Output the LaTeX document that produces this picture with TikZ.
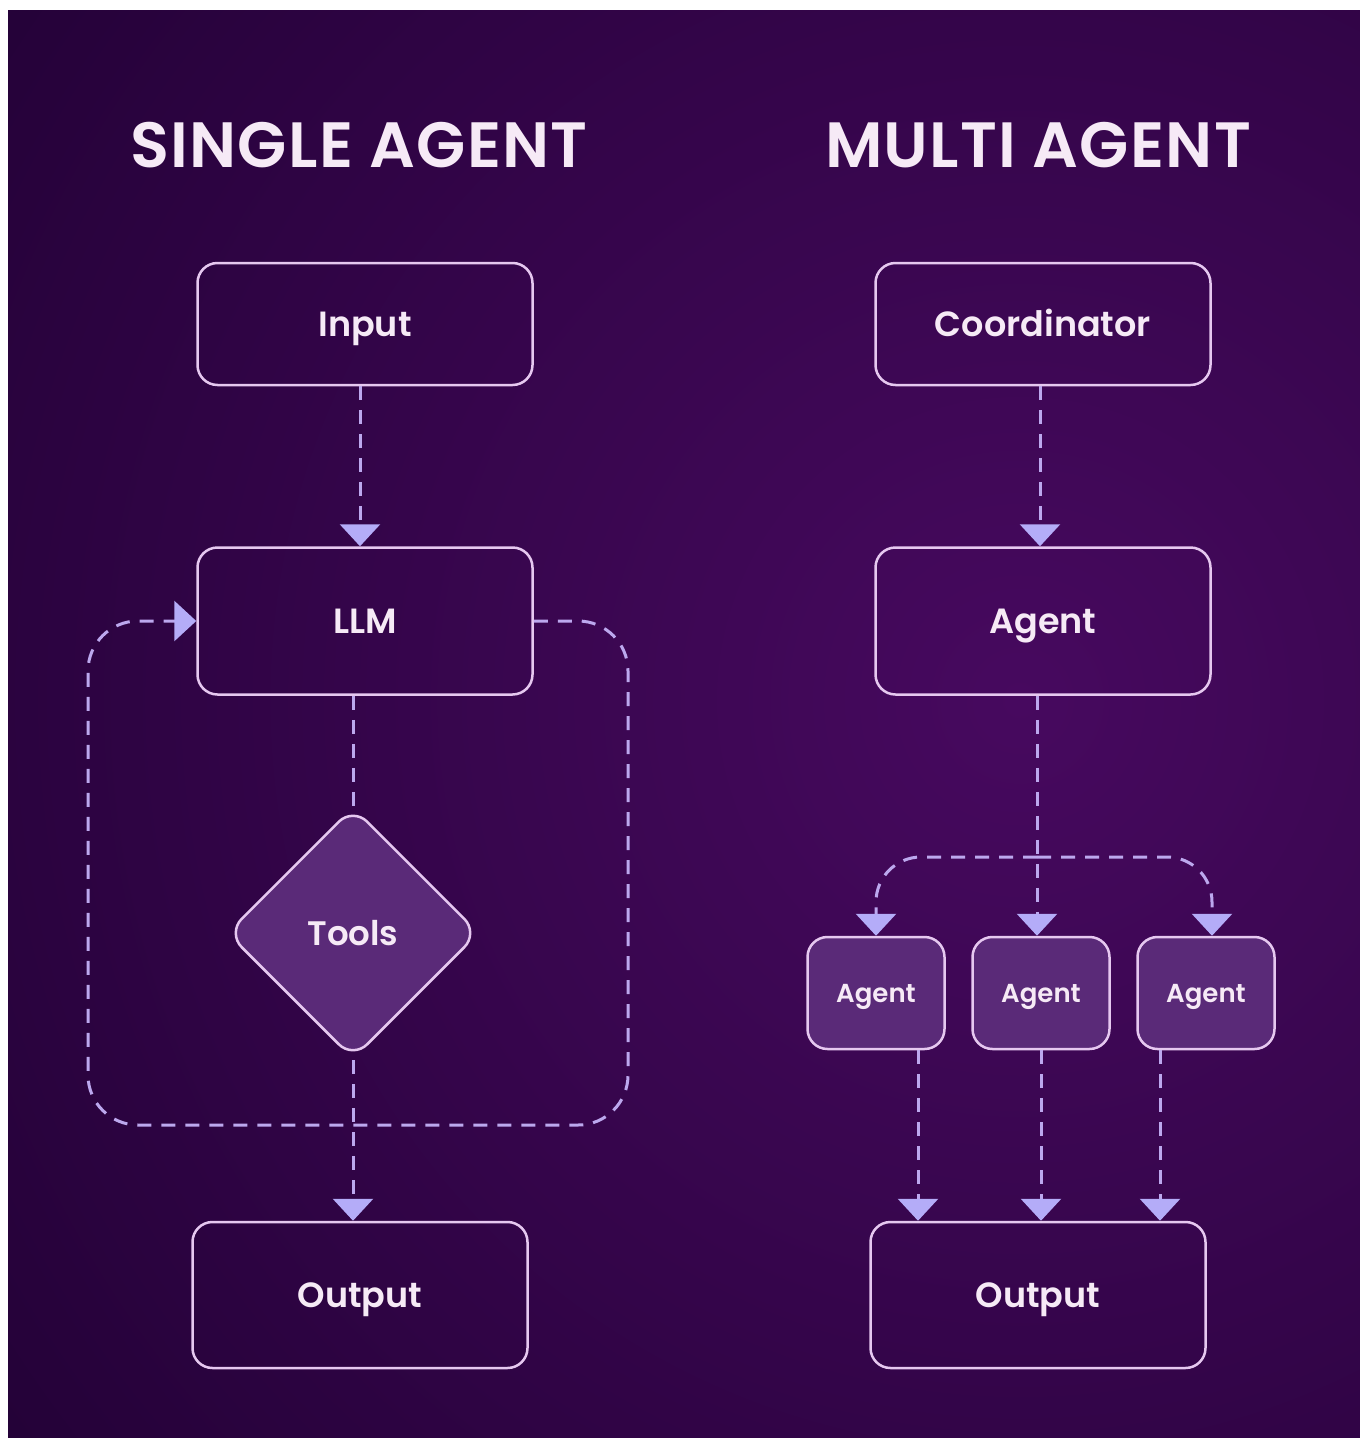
\documentclass[tikz,border=0pt]{standalone}
\usepackage{fontspec}
\setmainfont{Poppins}
\newfontfamily\semibold{Poppins SemiBold}
\newfontfamily\semiboldwide{Poppins SemiBold}[LetterSpace=2]
\usetikzlibrary{arrows.meta,shapes.geometric,positioning}

\definecolor{bgdark}{HTML}{1D0030}
\definecolor{bglight}{HTML}{47095F}
\definecolor{edgecol}{HTML}{E6C8F0}
\definecolor{linkcol}{HTML}{BCA8EE}
\definecolor{tipcol}{HTML}{B4ACF8}
\definecolor{txtcol}{HTML}{F6EAF6}
\definecolor{solidcol}{HTML}{5A2A78}

\begin{document}
\begin{tikzpicture}[x=1pt,y=-1pt,
	box/.style={draw=edgecol,line width=2.5pt,rounded corners=20pt,
		minimum width=335pt,minimum height=122pt,inner sep=0pt,
		text height=25pt,text depth=0pt,
		text=txtcol,font=\fontsize{35}{40}\semibold},
	smallbox/.style={box,fill=solidcol,minimum width=137pt,minimum height=112pt,
		text height=19pt,font=\fontsize{26}{30}\semibold},
	tool/.style={diamond,aspect=1,draw=edgecol,fill=solidcol,line width=2.5pt,
		rounded corners=20pt,minimum width=252pt,minimum height=252pt,inner sep=0pt,
		text height=25pt,text depth=0pt,
		text=txtcol,font=\fontsize{34}{40}\semibold},
	heading/.style={text=txtcol,font=\fontsize{64}{70}\semiboldwide},
	link/.style={draw=linkcol,line width=3pt,dash pattern=on 14pt off 10pt},
	arrow/.style={link,-{Triangle[width=40pt,length=22pt,color=tipcol]}}]
	\useasboundingbox (0,0) rectangle (1360,1438);
	\fill[bgdark] (8,10) rectangle (1360,1438);
	\begin{scope}
		\clip (8,10) rectangle (1360,1438);
		\shade[inner color=bglight,outer color=bgdark] (1020,700) circle (1500pt);
	\end{scope}

	\node[heading] (single) at (359,145) {SINGLE AGENT};
	\node[heading] (multi) at (1038,145) {MULTI AGENT};

	\node[box] (inp) at (365,324) {Input};
	\node[box,minimum height=147pt] (llm) at (365,621) {LLM};
	\node[tool] (tools) at (353,933) {Tools};
	\node[box,minimum height=146pt] (out1) at (360,1295) {Output};

	\draw[arrow] (inp.south -| 360,0) -- (llm.north -| 360,0);
	\draw[link] (llm.south -| tools.north) -- (tools.north);
	\draw[arrow] (tools.south) -- (tools.south |- out1.north);
	\coordinate (loopR) at (628,1125);
	\coordinate (loopL) at (88,1125);
	\draw[arrow,rounded corners=50pt] (llm.east) -| (loopR) -- (loopL) |- (llm.west);

	\node[box] (coord) at (1043,324) {Coordinator};
	\node[box,minimum height=147pt] (agent) at (1043,621) {Agent};
	\node[smallbox] (a1) at (876,993) {Agent};
	\node[smallbox] (a2) at (1041,993) {Agent};
	\node[smallbox] (a3) at (1206,993) {Agent};
	\node[box,minimum height=146pt] (out2) at (1038,1295) {Output};

	\draw[arrow] (coord.south -| 1040,0) -- (agent.north -| 1040,0);
	\draw[arrow] (agent.south -| 1037,0) -- (a2.north -| 1037,0);
	\coordinate (split) at (1037,857);
	\draw[arrow,rounded corners=45pt] (split) -| (a1.north);
	\draw[arrow,rounded corners=45pt] (split) -| ([xshift=6pt]a3.north);
	\draw[arrow] ([xshift=42pt]a1.south) -- ([xshift=42pt]a1.south |- out2.north);
	\draw[arrow] (a2.south) -- (a2.south |- out2.north);
	\draw[arrow] ([xshift=-46pt]a3.south) -- ([xshift=-46pt]a3.south |- out2.north);
\end{tikzpicture}
\end{document}
